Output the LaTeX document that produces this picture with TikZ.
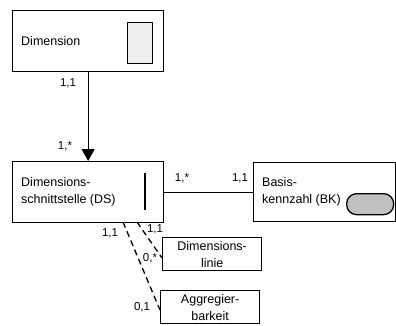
\documentclass[tikz,border=0pt]{standalone}
\usepackage{fontspec}
\setmainfont{Liberation Sans}
\usetikzlibrary{arrows.meta}
\definecolor{pillgray}{RGB}{192,192,192}
\definecolor{icongray}{RGB}{238,238,238}
\begin{document}
\begin{tikzpicture}[x=1pt,y=-1pt,
  box/.style={draw,line width=1.3pt,inner sep=0,anchor=north west},
  txt/.style={font=\fontsize{12.5}{17}\selectfont,inner sep=0,align=left,anchor=west},
  ctxt/.style={font=\fontsize{12.5}{17}\selectfont,inner sep=0,align=center},
  card/.style={font=\fontsize{11.5}{14}\selectfont,inner sep=0},
  assoc/.style={line width=1.3pt},
  dashline/.style={line width=1.3pt,dash pattern=on 6pt off 4pt}]
\useasboundingbox (0,0) rectangle (396,325);

% entity boxes
\node[box,minimum width=151pt,minimum height=61pt] (dim) at (12,10) {};
\node[box,minimum width=151pt,minimum height=61pt] (ds) at (12,161) {};
\node[box,minimum width=142pt,minimum height=59pt] (bk) at (253,162) {};
\node[box,minimum width=99pt,minimum height=33pt] (dl) at (162,237) {};
\node[box,minimum width=99pt,minimum height=33pt] (ag) at (160,290) {};

% box labels
\node[txt] (dimtext) at (21,41) {Dimension};
\node[txt] (dstext) at (21,191.5) {Dimensions-\\schnittstelle (DS)};
\node[txt] (bktext) at (262,191.5) {Basis-\\kennzahl (BK)};
\node[ctxt] (dltext) at (dl.center) {Dimensions-\\linie};
\node[ctxt] (agtext) at (ag.center) {Aggregier-\\barkeit};

% symbols inside the boxes
\node[box,fill=icongray,minimum width=25pt,minimum height=41pt] (dimicon) at (127,22) {};
\draw[line width=1.4pt] (145,173) -- (145,210);
\node[box,fill=pillgray,rounded corners=10pt,minimum width=47pt,minimum height=21pt] (bkpill) at (346,193) {};

% connectors
\draw[assoc,-{Triangle[width=13pt,length=12pt]}] (dim.south) -- (ds.north);
\draw[assoc] (ds.east) -- (bk.west);
\coordinate (dsA) at (137,222);
\coordinate (dsB) at (123,222);
\coordinate (dlIn) at (162,258);
\coordinate (agIn) at (160,310);
\draw[dashline] (dsA) -- (dlIn);
\draw[dashline] (dsB) -- (agIn);

% cardinalities
\node[card] (c1) at (68,83) {1,1};
\node[card] (c2) at (65,146) {1,*};
\node[card] (c3) at (182,178) {1,*};
\node[card] (c4) at (240,178) {1,1};
\node[card] (c5) at (110,233) {1,1};
\node[card] (c6) at (155,229) {1,1};
\node[card] (c7) at (150,258) {0,*};
\node[card] (c8) at (142,307) {0,1};
\end{tikzpicture}
\end{document}
